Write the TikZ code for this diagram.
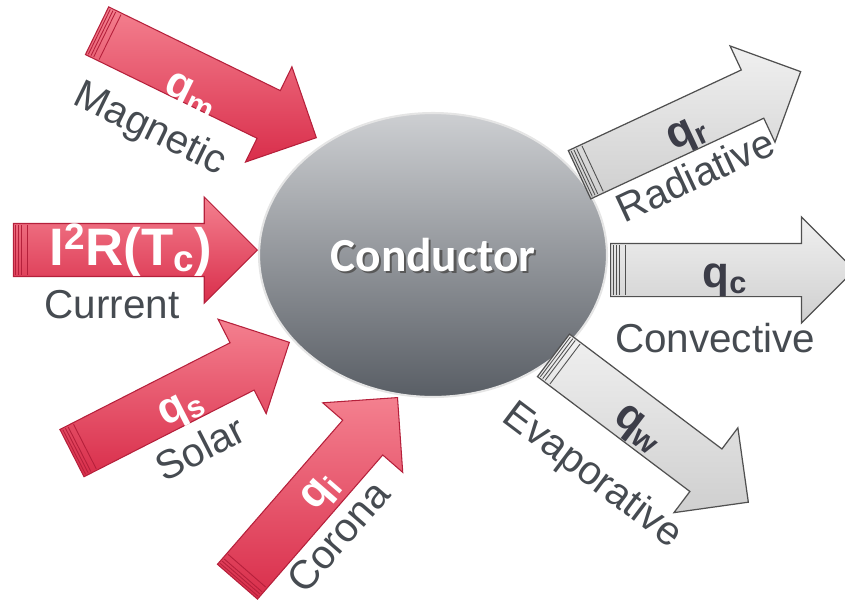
\documentclass[tikz,border=0pt]{standalone}
\usepackage{fontspec}
\setmainfont{Liberation Sans}
\newfontfamily\condfont{Carlito}
\usetikzlibrary{shapes.arrows,shapes.geometric,calc}

\definecolor{heatred}{HTML}{D92E4B}
\definecolor{heatpink}{HTML}{F4808F}
\definecolor{heatedge}{HTML}{B5203B}
\definecolor{losslight}{HTML}{F0F0F0}
\definecolor{lossgray}{HTML}{CFCFCF}
\definecolor{lossedge}{HTML}{505050}
\definecolor{labelgray}{HTML}{464B51}
\definecolor{qdark}{HTML}{3C3D48}
\definecolor{condtop}{HTML}{CDCFD2}
\definecolor{condmid}{HTML}{9B9FA4}
\definecolor{condbot}{HTML}{595E65}

\begin{document}
\begin{tikzpicture}[x=0.02cm, y=0.02cm,
  flow/.style={single arrow, single arrow head extend=0.53cm,
    minimum height=4.88cm, text height=0.52cm, text depth=0.52cm,
    text width=0pt, inner sep=0pt},
  gain/.style={flow, draw=heatedge, line width=0.6pt,
    top color=heatpink, bottom color=heatred},
  loss/.style={flow, draw=lossedge, line width=0.7pt,
    top color=losslight, bottom color=lossgray},
  stripe/.style={line width=0.5pt},
  qtext/.style={font=\bfseries\fontsize{25}{25}\selectfont, inner sep=0pt},
  flowname/.style={text=labelgray, font=\fontsize{23}{23}\selectfont, inner sep=0pt}
]
\useasboundingbox (0,0) rectangle (845,600);

% conductor
\node (cond) [ellipse, minimum width=6.96cm, minimum height=5.68cm,
  draw=white!80!gray, line width=1.2pt,
  top color=condtop, middle color=condmid, bottom color=condbot] at (433,345) {};
\node (condshade) [text=black!65, font=\condfont\bfseries\fontsize{27}{27}\selectfont]
  at ([shift={(1.2pt,-1.2pt)}]cond.center) {Conductor};
\node (condname) [text=white, font=\condfont\bfseries\fontsize{27}{27}\selectfont]
  at (cond.center) {Conductor};

% heat gains
\node (mag) [gain, rotate=-26, anchor=tip] at (317,462) {};
\node (cur) [gain, anchor=tip] at (258,350) {};
\node (sol) [gain, rotate=27, anchor=tip] at (290,258) {};
\node (cor) [gain, rotate=49, anchor=tip] at (398,203) {};

% heat losses
\node (rad) [loss, rotate=25, anchor=tail] at (579,425) {};
\node (con) [loss, anchor=tail] at (610,330) {};
\node (eva) [loss, rotate=-37, anchor=tail] at (553,245) {};

% ribbed tails
\foreach \a/\c in {mag/heatedge,cur/heatedge,sol/heatedge,cor/heatedge,
                   rad/lossedge,con/lossedge,eva/lossedge}
  \foreach \d in {3,6,9,15}{
    \path ($(\a.tail)!\d*0.02cm!(\a.tip)$) coordinate (s);
    \draw[stripe, \c] ($(s)!0.5cm!90:(\a.tip)$) -- ($(s)!0.5cm!-90:(\a.tip)$);
  }

% flux symbols
\node (qm) [qtext, text=white, rotate=-26] at (190,503) {q\textsubscript{m}};
\node (qcur) [qtext, text=white, font=\bfseries\fontsize{30}{30}\selectfont]
  at (131,350) {I\textsuperscript{2}R(T\textsubscript{c})};
\node (qs) [qtext, text=white, rotate=27] at (182,190) {q\textsubscript{s}};
\node (qi) [qtext, text=white, rotate=49] at (322,107) {q\textsubscript{i}};
\node (qr) [qtext, text=qdark, rotate=25] at (688,464) {q\textsubscript{r}};
\node (qc) [qtext, text=qdark] at (725,320) {q\textsubscript{c}};
\node (qw) [qtext, text=qdark, rotate=-37] at (637,170) {q\textsubscript{w}};

% names
\node (magname) [flowname, rotate=-26] at (150,470) {Magnetic};
\node (curname) [flowname] at (112,295) {Current};
\node (solname) [flowname, rotate=27] at (200,152) {Solar};
\node (corname) [flowname, rotate=49] at (338,64) {Corona};
\node (radname) [flowname, rotate=25] at (695,425) {Radiative};
\node (conname) [flowname] at (715,262) {Convective};
\node (evaname) [flowname, rotate=-37] at (592,124) {Evaporative};
\end{tikzpicture}
\end{document}
